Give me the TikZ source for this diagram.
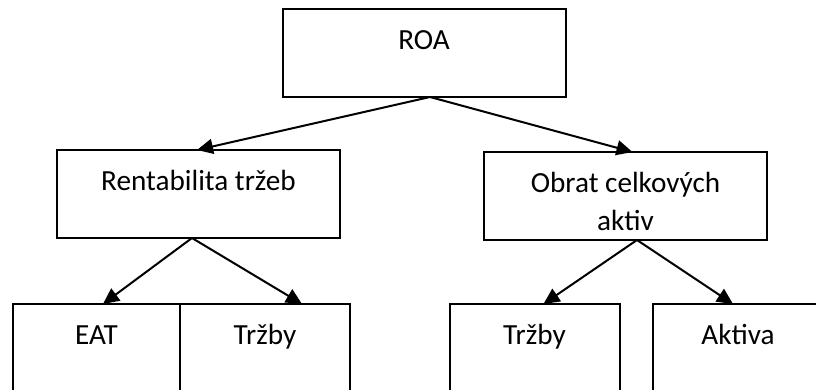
\documentclass[tikz,border=0pt]{standalone}
\usepackage{fontspec}
\setmainfont{Carlito}
\usetikzlibrary{arrows.meta}

\tikzset{
	every box/.style={draw, line width=1pt, rectangle, inner xsep=0pt, inner ysep=0pt,
		outer sep=0pt, align=center, anchor=north, text height=20.5pt, text depth=23.5pt,
		font=\fontsize{14.6}{19}\selectfont},
	box wide/.style={minimum width=141.5pt},
	box narrow/.style={minimum width=85pt},
	box two lines/.style={text height=39.5pt, text depth=4.5pt},
	box eat/.style={minimum width=83.5pt}
}

\begin{document}
\begin{tikzpicture}[x=0.5pt, y=-0.5pt, >={Triangle[length=8pt, width=7.5pt]}, line width=1pt]

\useasboundingbox (0,0) rectangle (816,390);

\node [every box, box wide] (roa) at (424,9) {ROA};
\node [every box, box wide] (rentab) at (198.5,150) {Rentabilita tržeb};
\node [every box, box wide, box two lines] (obrat) at (625.5,152) {Obrat celkových\\aktiv};

%bottom row
\foreach \m/\x/\t in {eat/96.5/EAT, trzbyA/265/Tržby, trzbyB/534.5/Tržby, aktiva/738/Aktiva}
	\node [every box, box narrow, box \m/.try] (\m) at (\x,304) {\t};

%drawing part
\draw [->] ([xshift=3pt]roa.south) -- ([xshift=-0.75pt]rentab.north);
\draw [->] ([xshift=3pt]roa.south) -- ([xshift=3.5pt]obrat.north);

\draw [->] ([xshift=-3.25pt]rentab.south) -- ([xshift=3.25pt]eat.north);
\draw [->] ([xshift=-3.25pt]rentab.south) -- ([xshift=18.5pt]trzbyA.north);

\draw [->] ([xshift=5.75pt]obrat.south) -- ([xshift=4.5pt]trzbyB.north);
\draw [->] ([xshift=5.75pt]obrat.south) -- ([xshift=-2.5pt]aktiva.north);

\end{tikzpicture}
\end{document}
